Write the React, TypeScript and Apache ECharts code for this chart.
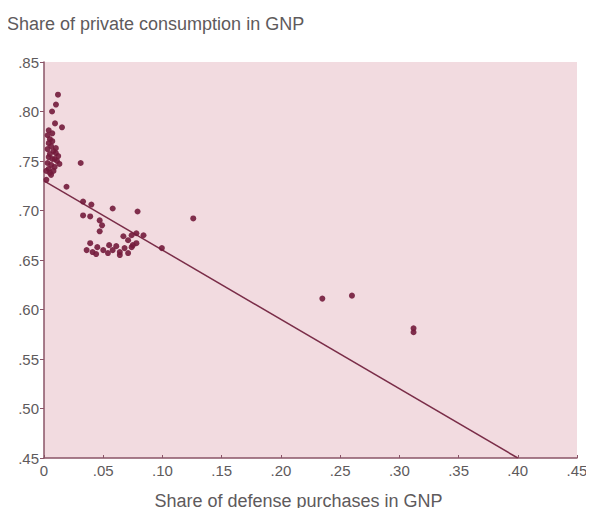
import React, { useEffect, useRef } from "react";
import * as echarts from "echarts";

const titleText = "Share of private consumption in GNP";
const xAxisTitle = "Share of defense purchases in GNP";

// [defense share, private consumption share]
const observations: [number, number][] = [
  [0.0118, 0.817], [0.0101, 0.807], [0.0068, 0.8], [0.0093, 0.788], [0.0152, 0.784],
  [0.004, 0.781], [0.007, 0.778], [0.003, 0.776], [0.005, 0.772], [0.007, 0.77],
  [0.004, 0.768], [0.006, 0.765], [0.01, 0.763], [0.003, 0.762], [0.008, 0.76],
  [0.01, 0.758], [0.005, 0.757], [0.012, 0.755], [0.004, 0.754], [0.007, 0.752],
  [0.009, 0.752], [0.011, 0.75], [0.003, 0.748], [0.013, 0.747], [0.006, 0.746],
  [0.009, 0.744], [0.004, 0.742], [0.002, 0.74], [0.008, 0.74], [0.005, 0.738],
  [0.006, 0.736], [0.002, 0.731],
  [0.031, 0.748], [0.019, 0.724], [0.033, 0.709], [0.04, 0.706], [0.058, 0.702],
  [0.079, 0.699], [0.126, 0.692], [0.033, 0.695], [0.039, 0.694], [0.047, 0.69],
  [0.049, 0.685], [0.047, 0.679], [0.067, 0.674], [0.071, 0.67], [0.074, 0.675],
  [0.078, 0.677], [0.084, 0.675], [0.075, 0.665], [0.0995, 0.662], [0.039, 0.667],
  [0.036, 0.66], [0.041, 0.658], [0.045, 0.663], [0.05, 0.66], [0.054, 0.657],
  [0.058, 0.66], [0.061, 0.664], [0.064, 0.658], [0.068, 0.662], [0.074, 0.663],
  [0.071, 0.657], [0.064, 0.655], [0.078, 0.667], [0.044, 0.656], [0.055, 0.665],
  [0.235, 0.611], [0.26, 0.614], [0.312, 0.581], [0.312, 0.577],
];

const fittedLine: [number, number][] = [
  [0, 0.73],
  [0.4, 0.45],
];

const fmt = (v: number) => (v === 0 ? "0" : v.toFixed(2).replace(/^0/, ""));

export default function App() {
  const ref = useRef<HTMLDivElement>(null);
  useEffect(() => {
    if (!ref.current) return;
    const chart = echarts.init(ref.current, undefined, { renderer: "svg" });
    const textColor = "#5e5a5c";
    const axisColor = "#8a5467";
    chart.setOption({
      animation: false,
      backgroundColor: "#ffffff",
      textStyle: { fontFamily: "Liberation Sans, Arial, sans-serif" },
      title: {
        text: titleText,
        left: 2,
        top: 10,
        textStyle: { fontSize: 18, fontWeight: "normal", color: textColor },
      },
      grid: {
        left: 44,
        right: 17,
        top: 62,
        bottom: 58,
        show: true,
        backgroundColor: "#f2dbe0",
        borderWidth: 0,
      },
      xAxis: {
        type: "value",
        min: 0,
        max: 0.45,
        interval: 0.05,
        name: xAxisTitle,
        nameLocation: "middle",
        nameGap: 34,
        nameTextStyle: { fontSize: 18, color: textColor, padding: [0, 24, 0, 0] },
        axisLine: { show: true, onZero: false, lineStyle: { color: axisColor, width: 1.5 } },
        axisTick: { show: true, inside: true, length: 3, lineStyle: { color: axisColor } },
        axisLabel: { formatter: fmt, fontSize: 15, color: textColor, margin: 5 },
        splitLine: { show: false },
      },
      yAxis: {
        type: "value",
        min: 0.45,
        max: 0.85,
        interval: 0.05,
        axisLine: { show: true, onZero: false, lineStyle: { color: axisColor, width: 1.5 } },
        axisTick: { show: true, length: 4, lineStyle: { color: axisColor } },
        axisLabel: { formatter: fmt, fontSize: 15, color: textColor, margin: 5 },
        splitLine: { show: false },
      },
      series: [
        {
          type: "line",
          data: fittedLine,
          showSymbol: false,
          symbol: "none",
          lineStyle: { color: "#7a2d48", width: 1.5 },
          z: 2,
        },
        {
          type: "scatter",
          data: observations,
          symbol: "circle",
          symbolSize: 6,
          itemStyle: { color: "#731b3c", opacity: 0.9 },
          z: 3,
        },
      ],
    });
    return () => chart.dispose();
  }, []);
  return <div ref={ref} style={{ width: 594, height: 516, margin: -8 }} />;
}
